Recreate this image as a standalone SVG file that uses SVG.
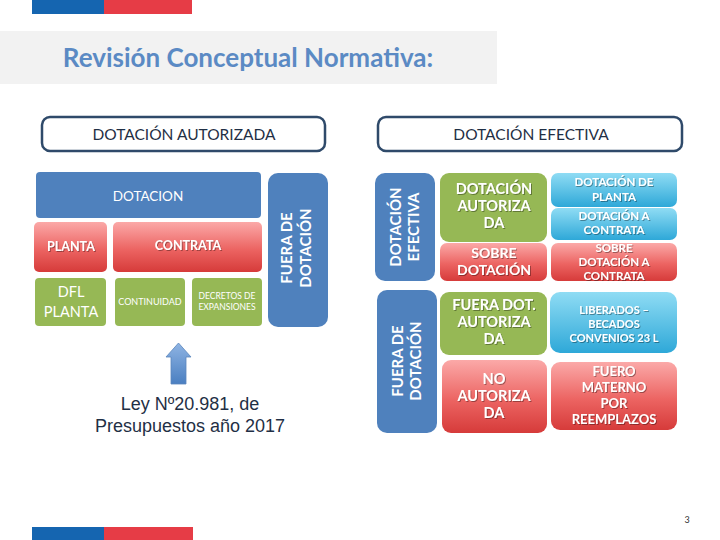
<svg xmlns="http://www.w3.org/2000/svg" width="720" height="540" viewBox="0 0 720 540">
<defs>
<linearGradient id="gRed" x1="0" y1="0" x2="0" y2="1"><stop offset="0" stop-color="#fba9a8"/><stop offset="0.55" stop-color="#ec6462"/><stop offset="1" stop-color="#d63b3a"/></linearGradient>
<linearGradient id="gCyan" x1="0" y1="0" x2="0" y2="1"><stop offset="0" stop-color="#8fdcf4"/><stop offset="1" stop-color="#2ea8d8"/></linearGradient>
<linearGradient id="gArrow" x1="0" y1="0" x2="0" y2="1"><stop offset="0" stop-color="#8fb4e3"/><stop offset="1" stop-color="#4a7fc1"/></linearGradient>
<filter id="sh" x="-20%" y="-20%" width="140%" height="140%"><feDropShadow dx="1" dy="1" stdDeviation="0.6" flood-color="#000" flood-opacity="0.35"/></filter>
</defs>
<style>
.t{font-family:"Lato","Open Sans","Liberation Sans",sans-serif;}
.w{fill:#fff;font-weight:bold;text-anchor:middle;font-family:"Lato","Open Sans","Liberation Sans",sans-serif;}
.wr{fill:#fff;text-anchor:middle;font-family:"Lato","Open Sans","Liberation Sans",sans-serif;}
.hdr{fill:#fff;stroke:#2f4a6a;stroke-width:2.5;}
.hdt{fill:#1f2f45;font-size:15.5px;text-anchor:middle;font-family:"Lato","Open Sans","Liberation Sans",sans-serif;}
.blue{fill:#4f81bd;}
.green{fill:#96b855;}
.red{fill:url(#gRed);}
.cyan{fill:url(#gCyan);}
</style>
<rect width="720" height="540" fill="#fff"/>
<g id="topbar"><rect x="32" y="0" width="72" height="14" fill="#1565b0"/><rect x="104" y="0" width="88" height="14" fill="#e63c46"/></g>
<g id="title"><rect x="0" y="31" width="497" height="53" fill="#f2f2f2"/><text x="248" y="67" class="t" font-size="26" font-weight="bold" fill="#5b8ac4" text-anchor="middle">Revisión Conceptual Normativa:</text></g>

<g id="hdr-autorizada"><rect x="42" y="117" width="283" height="34" rx="8" class="hdr"/><text x="184" y="140" class="hdt">DOTACIÓN AUTORIZADA</text></g>
<g id="hdr-efectiva"><rect x="378" y="117" width="304" height="34" rx="8" class="hdr"/><text x="531" y="140" class="hdt">DOTACIÓN EFECTIVA</text></g>

<g id="dotacion"><rect x="36" y="172" width="225" height="46" rx="4" class="blue"/><text x="148" y="201" class="wr" font-size="13.5">DOTACION</text></g>
<g id="fuera-left"><rect x="268" y="173" width="60" height="154" rx="10" class="blue"/><text transform="translate(298,248) rotate(-90)" class="w" font-size="15"><tspan x="0" y="-6">FUERA DE</tspan><tspan x="0" y="13">DOTACIÓN</tspan></text></g>
<g id="planta"><rect x="34" y="222" width="73" height="50" rx="5" class="red"/><text x="71" y="251" class="w" font-size="12.5" filter="url(#sh)">PLANTA</text></g>
<g id="contrata"><rect x="113" y="222" width="149" height="50" rx="5" class="red"/><text x="188" y="250" class="w" font-size="12.5" filter="url(#sh)">CONTRATA</text></g>
<g id="dfl"><rect x="35" y="278" width="71" height="48" rx="4" class="green"/><text class="wr" font-size="14.5"><tspan x="71" y="297">DFL</tspan><tspan x="71" y="317">PLANTA</tspan></text></g>
<g id="continuidad"><rect x="115" y="278" width="70" height="48" rx="4" class="green"/><text x="150" y="305" class="wr" font-size="9">CONTINUIDAD</text></g>
<g id="decretos"><rect x="192" y="278" width="70" height="48" rx="4" class="green"/><text class="wr" font-size="8.5"><tspan x="227" y="299">DECRETOS DE</tspan><tspan x="227" y="310">EXPANSIONES</tspan></text></g>

<g id="connectors"><path d="M178.5,343 L191,357 L186,357 L186,384 L171,384 L171,357 L166,357 Z" fill="url(#gArrow)" stroke="#5b86bd" stroke-width="0.8"/></g>
<g id="ley"><text font-family="Liberation Sans,Arial,sans-serif" font-size="18" fill="#1f2f45" text-anchor="middle"><tspan x="190" y="410">Ley Nº20.981, de</tspan><tspan x="190" y="432">Presupuestos año 2017</tspan></text></g>

<g id="efectiva-v"><rect x="375" y="173" width="60" height="108" rx="10" class="blue"/><text transform="translate(405,227) rotate(-90)" class="w" font-size="15"><tspan x="0" y="-4">DOTACIÓN</tspan><tspan x="0" y="14">EFECTIVA</tspan></text></g>
<g id="fuera-v"><rect x="377" y="290" width="60" height="143" rx="10" class="blue"/><text transform="translate(407,361) rotate(-90)" class="w" font-size="15"><tspan x="0" y="-4">FUERA DE</tspan><tspan x="0" y="14">DOTACIÓN</tspan></text></g>

<g id="dot-autorizada"><rect x="440" y="173" width="107" height="69" rx="9" class="green"/><text class="w" font-size="14.5" filter="url(#sh)"><tspan x="494" y="194">DOTACIÓN</tspan><tspan x="494" y="211">AUTORIZA</tspan><tspan x="494" y="228">DA</tspan></text></g>
<g id="sobre-dotacion"><rect x="440" y="243" width="107" height="38" rx="7" class="red"/><text class="w" font-size="14" filter="url(#sh)"><tspan x="494" y="258">SOBRE</tspan><tspan x="494" y="275">DOTACIÓN</tspan></text></g>
<g id="dot-planta"><rect x="551" y="173" width="126" height="34" rx="7" class="cyan"/><text class="w" font-size="11.5" filter="url(#sh)"><tspan x="614" y="186">DOTACIÓN DE</tspan><tspan x="614" y="201">PLANTA</tspan></text></g>
<g id="dot-contrata"><rect x="551" y="208" width="126" height="32" rx="7" class="cyan"/><text class="w" font-size="11.5" filter="url(#sh)"><tspan x="614" y="220">DOTACIÓN A</tspan><tspan x="614" y="234">CONTRATA</tspan></text></g>
<g id="sobre-contrata"><rect x="551" y="243" width="126" height="38" rx="7" class="red"/><text class="w" font-size="11.5" filter="url(#sh)"><tspan x="614" y="252">SOBRE</tspan><tspan x="614" y="266">DOTACIÓN A</tspan><tspan x="614" y="280">CONTRATA</tspan></text></g>

<g id="fuera-dot-aut"><rect x="440" y="292" width="107" height="63" rx="9" class="green"/><text class="w" font-size="14.5" filter="url(#sh)"><tspan x="494" y="310">FUERA DOT.</tspan><tspan x="494" y="327">AUTORIZA</tspan><tspan x="494" y="344">DA</tspan></text></g>
<g id="no-autorizada"><rect x="442" y="360" width="105" height="73" rx="9" class="red"/><text class="w" font-size="14.5" filter="url(#sh)"><tspan x="494" y="384">NO</tspan><tspan x="494" y="401">AUTORIZA</tspan><tspan x="494" y="418">DA</tspan></text></g>
<g id="liberados"><rect x="550" y="292" width="127" height="61" rx="10" class="cyan"/><text class="w" font-size="11" filter="url(#sh)"><tspan x="614" y="314">LIBERADOS –</tspan><tspan x="614" y="328">BECADOS</tspan><tspan x="614" y="342">CONVENIOS 23 L</tspan></text></g>
<g id="fuero"><rect x="551" y="362" width="126" height="68" rx="9" class="red"/><text class="w" font-size="13" filter="url(#sh)"><tspan x="614" y="376">FUERO</tspan><tspan x="614" y="392">MATERNO</tspan><tspan x="614" y="408">POR</tspan><tspan x="614" y="424">REEMPLAZOS</tspan></text></g>

<g id="bottombar"><rect x="32" y="527" width="72" height="13" fill="#1565b0"/><rect x="104" y="527" width="89" height="13" fill="#e63c46"/></g>
<g id="pagenum"><text x="687" y="523" class="t" font-size="9" fill="#333" text-anchor="middle">3</text></g>
</svg>
